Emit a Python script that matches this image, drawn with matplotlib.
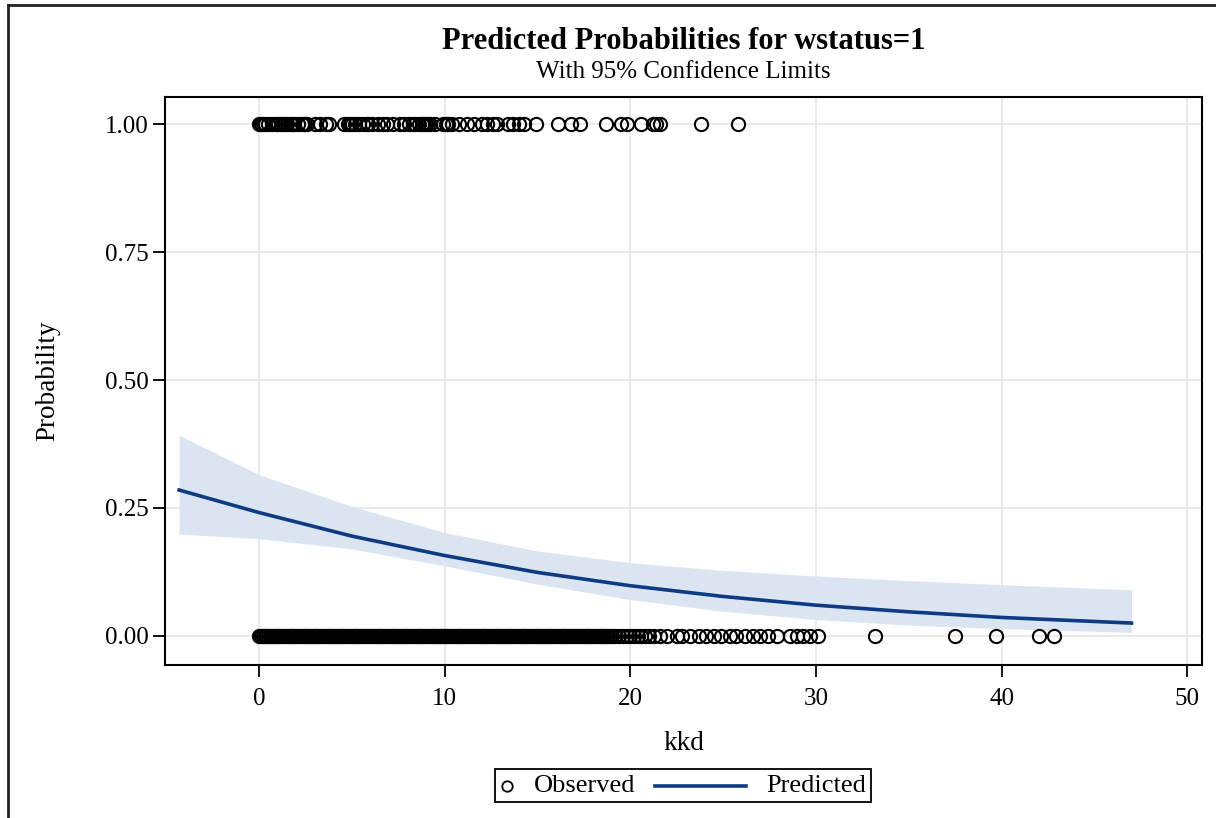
import matplotlib
matplotlib.use('Agg')
import matplotlib.pyplot as plt
from matplotlib.lines import Line2D
from matplotlib.offsetbox import (AnchoredOffsetbox, DrawingArea, HPacker,
                                  TextArea)
import numpy as np

plt.rcParams['font.family'] = ['Liberation Serif', 'DejaVu Serif']

# observed kkd values where wstatus = 1
obs_x_1 = [0.0, 0.1, 0.2, 0.3, 0.5, 0.7, 0.9, 1.0, 1.2, 1.3, 1.4, 1.5, 1.7,
           1.8, 1.9, 2.1, 2.3, 2.4, 2.5, 2.6, 3.0, 3.3, 3.6, 3.8, 4.6, 4.8,
           4.9, 5.0, 5.2, 5.4, 5.6, 5.8, 5.9, 6.1, 6.4, 6.7, 6.9, 7.2, 7.6,
           7.8, 8.1, 8.3, 8.4, 8.6, 8.8, 8.9, 9.0, 9.1, 9.2, 9.5, 9.9, 10.1,
           10.2, 10.4, 10.8, 11.2, 11.6, 12.0, 12.3, 12.6, 12.8, 13.4, 13.7,
           14.0, 14.3, 14.9, 16.1, 16.8, 17.3, 18.7, 19.5, 19.8, 20.6, 21.2,
           21.4, 21.6, 23.8, 25.8]

# observed kkd values where wstatus = 0
obs_x_0 = [0.0, 0.1, 0.2, 0.3, 0.4, 0.5, 0.6, 0.7, 0.8, 0.9,
           1.0, 1.1, 1.2, 1.3, 1.4, 1.5, 1.6, 1.7, 1.8, 1.9,
           2.0, 2.1, 2.2, 2.3, 2.4, 2.5, 2.6, 2.7, 2.8, 2.9,
           3.0, 3.1, 3.2, 3.3, 3.4, 3.5, 3.6, 3.7, 3.8, 3.9,
           4.0, 4.1, 4.2, 4.3, 4.4, 4.5, 4.6, 4.7, 4.8, 4.9,
           5.0, 5.1, 5.2, 5.3, 5.4, 5.5, 5.6, 5.7, 5.8, 5.9,
           6.0, 6.1, 6.2, 6.3, 6.4, 6.5, 6.6, 6.7, 6.8, 6.9,
           7.0, 7.1, 7.2, 7.3, 7.4, 7.5, 7.6, 7.7, 7.8, 7.9,
           8.0, 8.1, 8.2, 8.3, 8.4, 8.5, 8.6, 8.7, 8.8, 8.9,
           9.0, 9.1, 9.2, 9.3, 9.4, 9.5, 9.6, 9.7, 9.8, 9.9,
           10.0, 10.1, 10.2, 10.3, 10.4, 10.5, 10.6, 10.7, 10.8, 10.9,
           11.0, 11.1, 11.2, 11.3, 11.4, 11.5, 11.6, 11.7, 11.8, 11.9,
           12.0, 12.1, 12.2, 12.3, 12.4, 12.5, 12.6, 12.7, 12.8, 12.9,
           13.0, 13.1, 13.2, 13.3, 13.4, 13.5, 13.6, 13.7, 13.8, 13.9,
           14.0, 14.1, 14.2, 14.3, 14.4, 14.5, 14.6, 14.7, 14.8, 14.9,
           15.0, 15.1, 15.2, 15.3, 15.4, 15.5, 15.6, 15.7, 15.8, 15.9,
           16.0, 16.1, 16.2, 16.3, 16.4, 16.5, 16.6, 16.7, 16.8, 16.9,
           17.0, 17.1, 17.2, 17.3, 17.4, 17.5, 17.6, 17.7, 17.8, 17.9,
           18.0, 18.1, 18.2, 18.3, 18.4, 18.5, 18.6, 18.7, 18.8, 18.9,
           19.0, 19.2, 19.4, 19.6, 19.8, 20.0, 20.2, 20.4, 20.6, 20.8,
           21.0, 21.3, 21.6, 22.0, 22.5, 22.8, 23.2, 23.7, 24.1, 24.5,
           24.9, 25.4, 25.7, 26.2, 26.6, 27.0, 27.4, 27.9, 28.6, 29.0,
           29.3, 29.7, 30.1, 33.2, 37.5, 39.7, 42.0, 42.8]

# predicted curve and 95% limits
pred_x = [-4.3, 0, 5, 10, 15, 20, 25, 30, 35, 40, 47]
pred_p = [0.285, 0.241, 0.195, 0.157, 0.124, 0.098, 0.077, 0.060, 0.047,
          0.036, 0.025]
pred_lo = [0.199, 0.190, 0.170, 0.137, 0.101, 0.071, 0.048, 0.032, 0.021,
           0.014, 0.007]
pred_hi = [0.392, 0.315, 0.253, 0.202, 0.166, 0.143, 0.128, 0.117, 0.108,
           0.100, 0.090]

navy = '#0d3a82'

fig = plt.figure(figsize=(12.16, 8.18), dpi=100)
ax = fig.add_axes([0.1357, 0.187, 0.8528, 0.6944])

ax.fill_between(pred_x, pred_lo, pred_hi, color='#dbe5f2', lw=0, zorder=1)
ax.plot(pred_x, pred_p, '-', color=navy, lw=2.6, zorder=3)
ax.plot(obs_x_1, np.ones(len(obs_x_1)), 'o', mfc='none', mec='black',
        ms=9.5, mew=1.5, zorder=4)
ax.plot(obs_x_0, np.zeros(len(obs_x_0)), 'o', mfc='none', mec='black',
        ms=9.5, mew=1.5, zorder=4)

ax.set_xlim(-5.06, 50.8)
ax.set_ylim(-0.057, 1.053)
ax.set_xticks([0, 10, 20, 30, 40, 50])
ax.set_yticks([0, 0.25, 0.5, 0.75, 1.0])
ax.set_yticklabels(['0.00', '0.25', '0.50', '0.75', '1.00'])
ax.grid(color='#e6e6e6', lw=1.2, zorder=0)
ax.set_axisbelow(True)
ax.tick_params(direction='out', length=8.6, width=1.3, labelsize=18)
ax.tick_params(axis='x', pad=8)
ax.tick_params(axis='y', pad=3)
for s in ax.spines.values():
    s.set_linewidth(1.5)

ax.set_xlabel('kkd', fontsize=19.5, labelpad=15)
ax.set_ylabel('Probability', fontsize=19.5, labelpad=32)

fig.text(0.5621, 0.949, 'Predicted Probabilities for wstatus=1',
         ha='center', va='center', fontsize=22, fontweight='bold')
fig.text(0.5621, 0.912, 'With 95% Confidence Limits',
         ha='center', va='center', fontsize=18)

# legend: short marker sample, longer line sample
da_obs = DrawingArea(10, 14, 0, 0)
da_obs.add_artist(Line2D([5], [7], ls='none', marker='o', mfc='none',
                         mec='black', ms=7.5, mew=1.3))
da_pred = DrawingArea(66, 14, 0, 0)
da_pred.add_artist(Line2D([0, 66], [7, 7], color=navy, lw=2.6))
items = [da_obs,
         TextArea('Observed', textprops=dict(fontsize=19)),
         da_pred,
         TextArea('Predicted', textprops=dict(fontsize=19))]
box = HPacker(children=items, align='center', pad=0, sep=14)
leg = AnchoredOffsetbox(loc='center', child=box, pad=0.4, borderpad=0,
                        frameon=True, bbox_to_anchor=(0.5617, 0.0397),
                        bbox_transform=fig.transFigure)
leg.patch.set_boxstyle('square', pad=0)
leg.patch.set_edgecolor('black')
leg.patch.set_linewidth(1.3)
fig.add_artist(leg)

# outer frame of the cropped graph window
fig.add_artist(Line2D([0.0062, 1.0], [0.9939, 0.9939], color='#222222',
                      lw=2, transform=fig.transFigure))
fig.add_artist(Line2D([0.0062, 0.0062], [0.0, 0.9939], color='#222222',
                      lw=2, transform=fig.transFigure))

plt.savefig('out.png', dpi=100)
